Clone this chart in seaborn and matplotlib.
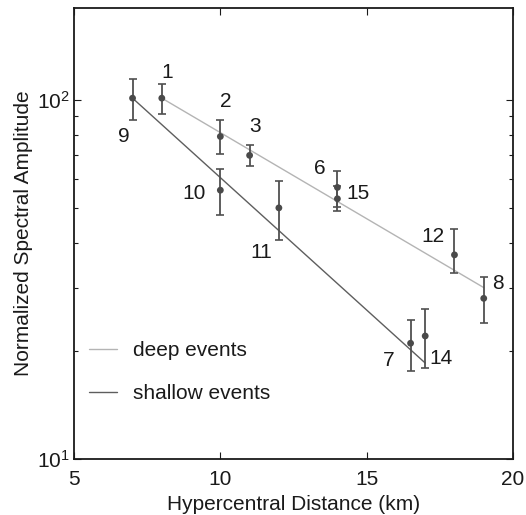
import numpy as np
import pandas as pd
import matplotlib
matplotlib.use("Agg")
import matplotlib.pyplot as plt
from matplotlib.ticker import LogLocator, NullFormatter, FixedLocator
import seaborn as sns

# Event data: hypocentral distance, normalized amplitude, and error-bar limits
event_ids = [1, 2, 3, 6, 15, 12, 8, 9, 10, 11, 7, 14]
depth_class = ["deep"] * 7 + ["shallow"] * 5
distance_km = [8, 10, 11, 14, 14, 18, 19, 7, 10, 12, 16.5, 17]
amplitude = [101, 79, 70, 57, 53, 37, 28, 101, 56, 50, 21, 22]
amp_lower = [91, 70.4, 65.3, 50.2, 48.9, 33, 23.9, 87.6, 47.7, 40.6, 17.6, 17.9]
amp_upper = [110.6, 88, 74.8, 63.5, 57.5, 43.6, 32.2, 114, 64.1, 59.3, 24.4, 26.1]

# Fitted attenuation trends (end points of each fit)
deep_fit_x = [8, 19]
deep_fit_y = [101, 30]
shallow_fit_x = [7, 17]
shallow_fit_y = [101, 18.5]

# Label offsets (pixels) for event numbers
label_dx = [5, 5, 5, -18, 21, -22, 14, -9, -26, -18, -22, 16]
label_dy = [26, 35, 29, 19, 5, 18, 15, -38, -3, -45, -17, -23]

df = pd.DataFrame({"event": event_ids, "depth": depth_class, "dist": distance_km,
                   "amp": amplitude, "lo": amp_lower, "hi": amp_upper})
fits = pd.concat([
    pd.DataFrame({"dist": deep_fit_x, "amp": deep_fit_y, "fit": "deep events"}),
    pd.DataFrame({"dist": shallow_fit_x, "amp": shallow_fit_y, "fit": "shallow events"}),
])

sns.set_style("ticks")
plt.rcParams["font.family"] = ["Liberation Sans", "DejaVu Sans"]
FS = 15

fig = plt.figure(figsize=(5.26, 5.15), dpi=100)
ax = fig.add_axes([0.1407, 0.1087, 0.8346, 0.8758])

sns.lineplot(data=fits, x="dist", y="amp", hue="fit",
             palette={"deep events": "#b4b4b4", "shallow events": "#5e5e5e"},
             linewidth=1.0, ax=ax, zorder=2)

ax.errorbar(df["dist"], df["amp"],
            yerr=[df["amp"] - df["lo"], df["hi"] - df["amp"]],
            fmt="none", ecolor="#505050", elinewidth=1.3, capsize=2.8,
            capthick=1.2, zorder=3)
sns.scatterplot(data=df, x="dist", y="amp", color="#4a4a4a", s=24,
                edgecolor="none", ax=ax, zorder=4, legend=False)

for eid, x, y, dx, dy in zip(event_ids, distance_km, amplitude, label_dx, label_dy):
    ax.annotate(str(eid), (x, y), xytext=(dx, dy), textcoords="offset pixels",
                ha="center", va="center", fontsize=FS, color="#1a1a1a")

ax.set_yscale("log")
ax.set_xlim(5, 20)
ax.set_ylim(10, 180)
ax.xaxis.set_major_locator(FixedLocator([5, 10, 15, 20]))
ax.yaxis.set_major_locator(LogLocator(base=10, numticks=5))
ax.yaxis.set_minor_locator(LogLocator(base=10, subs=np.arange(2, 10), numticks=20))
ax.yaxis.set_minor_formatter(NullFormatter())

ax.tick_params(which="both", direction="in", top=True, right=True,
               labelsize=FS, colors="#1a1a1a", pad=3)
ax.tick_params(axis="x", which="both", pad=8)
ax.tick_params(which="major", length=5, width=0.8)
ax.tick_params(which="minor", length=3, width=0.8)
for sp in ax.spines.values():
    sp.set_linewidth(1.3)
    sp.set_color("#1a1a1a")

ax.set_xlabel("Hypercentral Distance (km)", fontsize=FS, color="#1a1a1a", labelpad=4)
ax.set_ylabel("Normalized Spectral Amplitude", fontsize=FS, color="#1a1a1a", labelpad=3)

leg = ax.legend(loc="upper left", bbox_to_anchor=(0.034, 0.262), frameon=False,
                borderpad=0, borderaxespad=0,
                fontsize=FS, handlelength=1.35, handletextpad=0.75, labelspacing=1.15,
                labelcolor="#1a1a1a")

fig.savefig("out.png", dpi=100)
